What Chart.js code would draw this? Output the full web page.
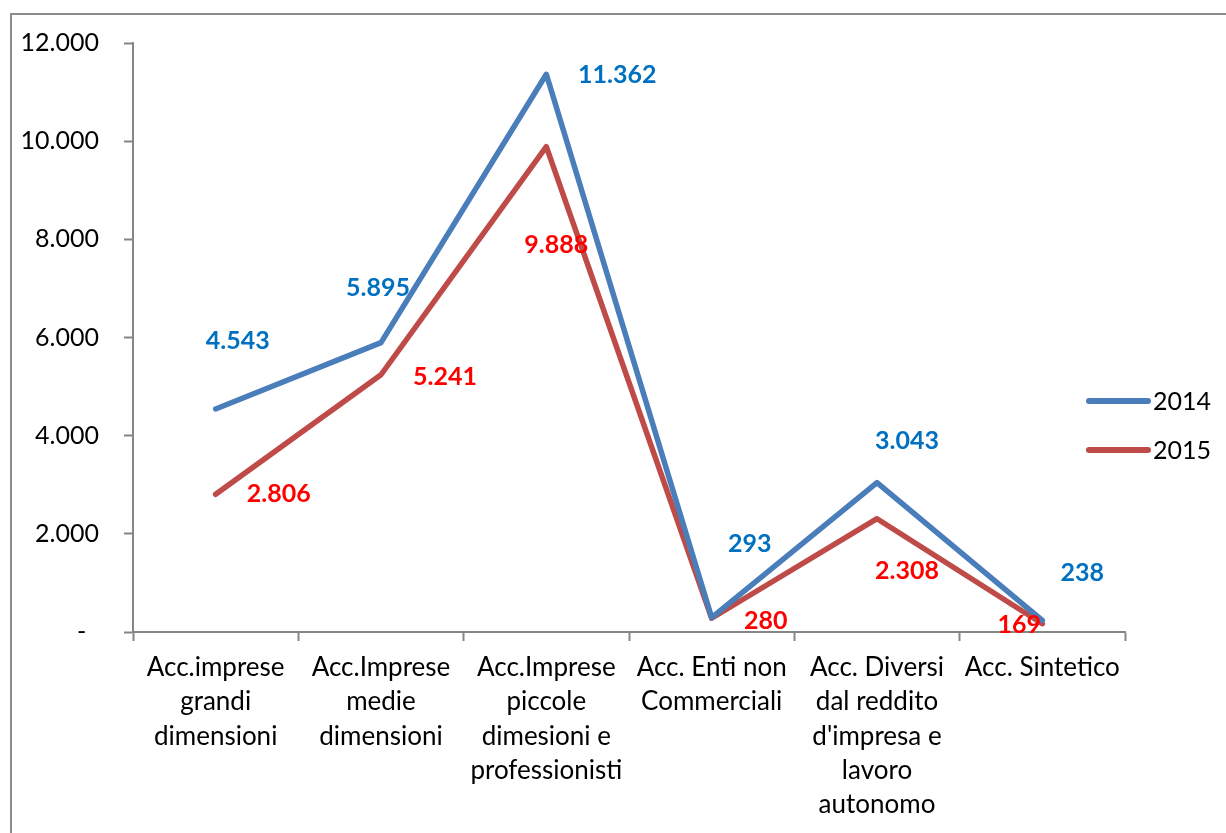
<!DOCTYPE html>
<html>
<head>
<meta charset="utf-8">
<script src="https://cdn.jsdelivr.net/npm/chart.js@4/dist/chart.umd.min.js"></script>
<style>
  html, body { margin: 0; padding: 0; background: #fff; }
  #wrap { position: relative; width: 1226px; height: 833px; }
</style>
</head>
<body>
<div id="wrap"><canvas id="c" width="1226" height="833"></canvas></div>
<script>
// Categories (multi-line labels) and yearly values
const categories = [
  ['Acc.imprese', 'grandi', 'dimensioni'],
  ['Acc.Imprese', 'medie', 'dimensioni'],
  ['Acc.Imprese', 'piccole', 'dimesioni e', 'professionisti'],
  ['Acc. Enti non', 'Commerciali'],
  ['Acc. Diversi', 'dal reddito', "d'impresa e", 'lavoro', 'autonomo'],
  ['Acc. Sintetico']
];
const seriesNames = ['2014', '2015'];
const values2014 = [4543, 5895, 11362, 293, 3043, 238];
const values2015 = [2806, 5241, 9888, 280, 2308, 169];
const yTicks = [0, 2000, 4000, 6000, 8000, 10000, 12000];

// Label placement relative to each point (px)
const labelOffsets2014 = [[22, -68], [-3, -55], [71, 1], [38, -74], [30, -42], [40, -47]];
const labelOffsets2015 = [[63, 0], [64, 2], [10, 98], [54, 3], [30, 52], [-23, 1]];

const FONT = 'Lato, "Open Sans", sans-serif';
const AXIS_GREY = '#868686';

function fmtIt(v) {
  return String(Math.round(v)).replace(/\B(?=(\d{3})+(?!\d))/g, '.');
}

// Grey frame around the chart
const framePlugin = {
  id: 'frame',
  beforeDraw(chart) {
    const ctx = chart.ctx;
    ctx.save();
    ctx.strokeStyle = '#8c8c8c';
    ctx.lineWidth = 2;
    ctx.strokeRect(11, 14, 1400, 1000);
    ctx.restore();
  }
};

// Value labels next to each point
const valueLabels = {
  id: 'valueLabels',
  afterDatasetsDraw(chart) {
    const ctx = chart.ctx;
    ctx.save();
    ctx.font = 'bold 25px ' + FONT;
    ctx.textAlign = 'center';
    ctx.textBaseline = 'middle';
    chart.data.datasets.forEach((ds, i) => {
      const meta = chart.getDatasetMeta(i);
      ctx.fillStyle = ds.labelColor;
      meta.data.forEach((pt, j) => {
        const off = ds.labelOffsets[j];
        ctx.fillText(fmtIt(ds.data[j]), pt.x + off[0], pt.y + off[1]);
      });
    });
    ctx.restore();
  }
};

// Legend on the right side
const sideLegend = {
  id: 'sideLegend',
  afterDraw(chart) {
    const ctx = chart.ctx;
    ctx.save();
    ctx.font = '25px ' + FONT;
    ctx.textBaseline = 'middle';
    ctx.textAlign = 'left';
    const x0 = 1089, x1 = 1148, ys = [401, 450];
    chart.data.datasets.forEach((ds, i) => {
      ctx.strokeStyle = ds.borderColor;
      ctx.lineWidth = 6;
      ctx.lineCap = 'round';
      ctx.beginPath();
      ctx.moveTo(x0, ys[i]);
      ctx.lineTo(x1, ys[i]);
      ctx.stroke();
      ctx.fillStyle = '#000';
      ctx.fillText(ds.label, 1153, ys[i] + 1);
    });
    ctx.restore();
  }
};

new Chart(document.getElementById('c'), {
  type: 'line',
  data: {
    labels: categories,
    datasets: [
      {
        label: seriesNames[0],
        data: values2014,
        borderColor: '#4A7EBB',
        labelColor: '#0070C0',
        labelOffsets: labelOffsets2014,
        borderWidth: 5.5,
        pointRadius: 0,
        tension: 0,
        borderJoinStyle: 'round',
        borderCapStyle: 'round'
      },
      {
        label: seriesNames[1],
        data: values2015,
        borderColor: '#BE4B48',
        labelColor: '#FF0000',
        labelOffsets: labelOffsets2015,
        borderWidth: 5.5,
        pointRadius: 0,
        tension: 0,
        borderJoinStyle: 'round',
        borderCapStyle: 'round'
      }
    ]
  },
  options: {
    responsive: false,
    animation: false,
    layout: { padding: { left: 0, top: 43, right: 101, bottom: 0 } },
    plugins: {
      legend: { display: false },
      tooltip: { enabled: false }
    },
    scales: {
      x: {
        offset: true,
        grid: {
          offset: true,
          drawOnChartArea: false,
          drawTicks: true,
          tickLength: 9,
          tickWidth: 2,
          tickColor: AXIS_GREY
        },
        border: { display: true, color: AXIS_GREY, width: 2 },
        ticks: {
          maxRotation: 0,
          minRotation: 0,
          autoSkip: false,
          padding: 10,
          color: '#000',
          font: { family: FONT, size: 26, lineHeight: 1.31 }
        },
        afterFit(scale) { scale.height = 201; }
      },
      y: {
        min: 0,
        max: 12000,
        afterBuildTicks(scale) { scale.ticks = yTicks.map(v => ({ value: v })); },
        grid: {
          drawOnChartArea: false,
          drawTicks: true,
          tickLength: 9,
          tickWidth: 2,
          tickColor: AXIS_GREY
        },
        border: { display: true, color: AXIS_GREY, width: 2 },
        ticks: {
          padding: 25,
          color: '#000',
          font: { family: FONT, size: 25 },
          callback: (v) => v === 0 ? '-  ' : fmtIt(v)
        },
        afterFit(scale) { scale.width = 133; }
      }
    }
  },
  plugins: [framePlugin, valueLabels, sideLegend]
});
</script>
</body>
</html>
